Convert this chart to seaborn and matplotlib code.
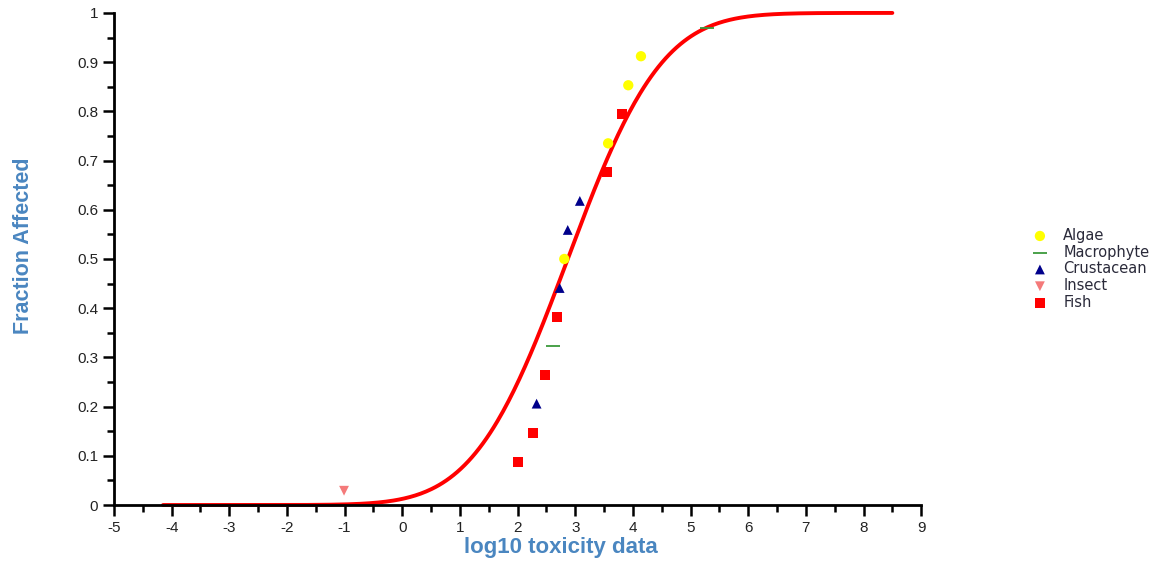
import math
import numpy as np
import pandas as pd
import matplotlib
matplotlib.use('Agg')
import matplotlib.pyplot as plt
from matplotlib.ticker import MultipleLocator, FuncFormatter
import seaborn as sns

# species sensitivity points
algae_x = [2.81, 3.57, 3.92, 4.14]
algae_y = [0.500, 0.735, 0.853, 0.912]
macro_x = [2.61, 5.28]
macro_y = [0.323, 0.969]
crust_x = [2.33, 2.73, 2.87, 3.08]
crust_y = [0.206, 0.441, 0.559, 0.618]
insect_x = [-1.01]
insect_y = [0.029]
fish_x = [2.01, 2.27, 2.48, 2.69, 3.55, 3.81]
fish_y = [0.088, 0.147, 0.265, 0.382, 0.676, 0.794]

# fitted log-normal SSD curve (mean, sd of log10 data) and its drawn range
fit_mu = 2.87
fit_sigma = 1.28
curve_start = -4.15
curve_end = 8.5

groups = ['Algae', 'Macrophyte', 'Crustacean', 'Insect', 'Fish']
xs = [algae_x, macro_x, crust_x, insect_x, fish_x]
ys = [algae_y, macro_y, crust_y, insect_y, fish_y]

df = pd.concat([pd.DataFrame({'x': x, 'y': y, 'group': g}) for g, x, y in zip(groups, xs, ys)])

sns.set_theme(style='white')
plt.rcParams['font.family'] = ['Liberation Sans', 'DejaVu Sans']
plt.rcParams['axes.unicode_minus'] = False

fig = plt.figure(figsize=(11.69, 5.62), dpi=100)
ax = fig.add_axes([0.0975, 0.1014, 0.6905, 0.8756])

# fitted curve
cx = np.linspace(curve_start, curve_end, 400)
cy = np.array([0.5 * (1 + math.erf((v - fit_mu) / (fit_sigma * math.sqrt(2)))) for v in cx])
sns.lineplot(x=cx, y=cy, color='#ff0000', linewidth=2.8, ax=ax, clip_on=False, zorder=2)

styles = {
    'Algae': dict(marker='o', color='#ffff00', s=55, edgecolor='none'),
    'Macrophyte': dict(marker='_', color='#3c9a3c', s=90, linewidth=1.3),
    'Crustacean': dict(marker='^', color='#00008b', s=50, edgecolor='none'),
    'Insect': dict(marker='v', color='#f47a7a', s=50, edgecolor='none'),
    'Fish': dict(marker='s', color='#ff0000', s=50, edgecolor='none'),
}
for g in groups:
    sub = df[df['group'] == g]
    sns.scatterplot(data=sub, x='x', y='y', label=g, ax=ax, zorder=3, clip_on=False, **styles[g])

ax.set_xlim(-5, 9)
ax.set_ylim(0, 1)
ax.xaxis.set_major_locator(MultipleLocator(1))
ax.xaxis.set_minor_locator(MultipleLocator(0.5))
ax.yaxis.set_major_locator(MultipleLocator(0.1))
ax.yaxis.set_minor_locator(MultipleLocator(0.05))
ax.yaxis.set_major_formatter(FuncFormatter(lambda v, p: ('%.1f' % v).rstrip('0').rstrip('.') if v else '0'))

for side in ['top', 'right']:
    ax.spines[side].set_visible(False)
for side in ['left', 'bottom']:
    ax.spines[side].set_linewidth(2)
    ax.spines[side].set_color('black')

ax.tick_params(which='major', direction='out', length=8, width=1.8, labelsize=11,
               colors='black', labelcolor='#222222', bottom=True, left=True)
ax.tick_params(which='minor', direction='out', length=5, width=1.8, bottom=True, left=True, colors='black')

ax.set_xlabel('log10 toxicity data', color='#4a86c0', fontsize=16, fontweight='bold')
ax.set_ylabel('Fraction Affected', color='#4a86c0', fontsize=15.5, fontweight='bold')
ax.xaxis.set_label_coords(0.554, -0.064)
ax.yaxis.set_label_coords(-0.099, 0.526)

leg = ax.legend(loc='upper left', bbox_to_anchor=(1.12, 0.59), frameon=False,
                prop={'family': 'DejaVu Sans', 'size': 10.5},
                handletextpad=1.0, labelspacing=0.12, handlelength=1.2, markerscale=1.0)
for t in leg.get_texts():
    t.set_color('#2a2a3a')

fig.savefig('out.png', dpi=100)
